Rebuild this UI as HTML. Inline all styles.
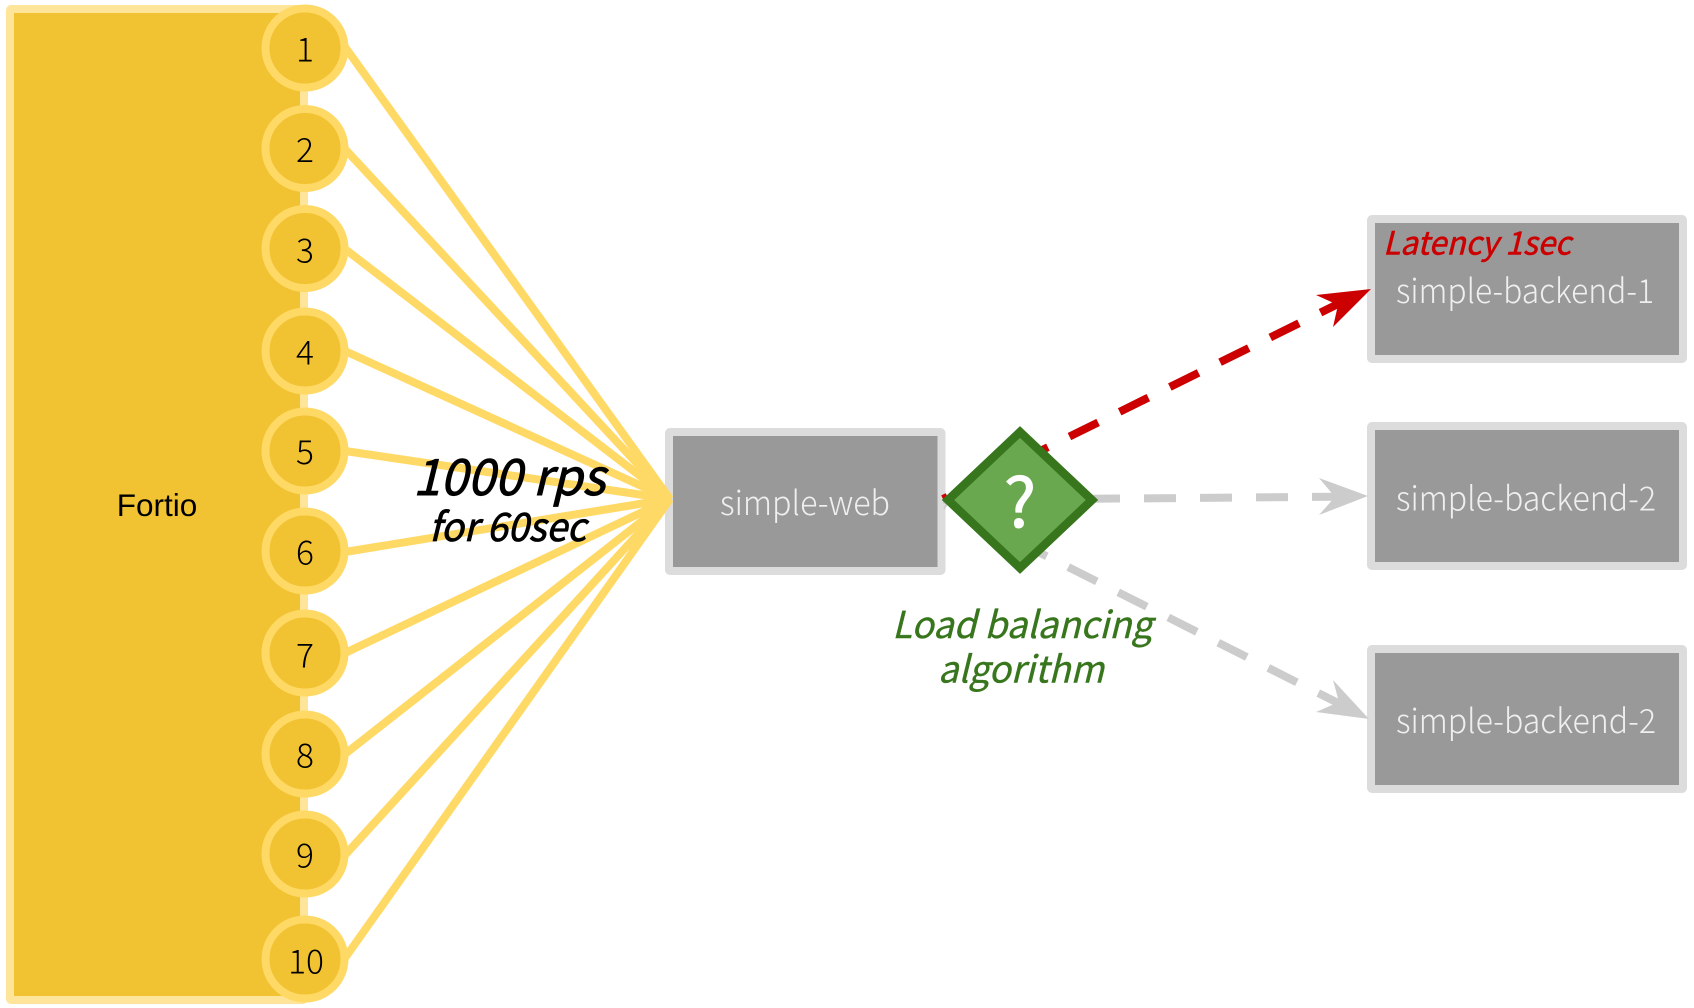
<!DOCTYPE html>
<html><head><meta charset="utf-8"><style>
html,body{margin:0;padding:0;background:#fff}
svg{display:block}
text{font-family:"Noto Sans CJK KR","Liberation Sans",sans-serif}
.n{font-size:33.5px;fill:#000;text-anchor:middle;font-weight:300}
.b{font-size:33.5px;fill:#efefef;font-weight:300}
.i{font-style:italic}
</style></head><body>
<svg width="1694" height="1008" viewBox="0 0 1694 1008" xmlns="http://www.w3.org/2000/svg">
<rect width="1694" height="1008" fill="#fff"/>
<!-- Fortio body -->
<rect x="10" y="9" width="294" height="991" rx="1" fill="#f1c232" stroke="#ffe599" stroke-width="8"/>
<text x="157" y="516" style='font-family:"Liberation Sans",sans-serif;font-size:31.5px' fill="#000" text-anchor="middle">Fortio</text>
<!-- simple-web box -->
<rect x="669" y="432" width="272.5" height="139" rx="1" fill="#999" stroke="#dcdcdc" stroke-width="8"/>
<!-- fan -->
<g stroke="#ffd966" stroke-width="8" fill="none">
<line x1="345" y1="47" x2="670" y2="499"/>
<line x1="345" y1="149" x2="670" y2="499"/>
<line x1="345" y1="249" x2="670" y2="499"/>
<line x1="345" y1="351" x2="670" y2="499"/>
<line x1="345" y1="451" x2="670" y2="499"/>
<line x1="345" y1="552" x2="670" y2="499"/>
<line x1="345" y1="653" x2="670" y2="499"/>
<line x1="345" y1="754" x2="670" y2="499"/>
<line x1="345" y1="855" x2="670" y2="499"/>
<line x1="345" y1="958" x2="670" y2="499"/>
</g>
<polygon points="672,499 650,470 650,528" fill="#ffd966"/>
<!-- circles -->
<g fill="#f1c232" stroke="#ffd966" stroke-width="8">
<circle cx="305" cy="48" r="39.5"/>
<circle cx="305" cy="148.5" r="39.5"/>
<circle cx="305" cy="248.5" r="39.5"/>
<circle cx="305" cy="351" r="39.5"/>
<circle cx="305" cy="451" r="39.5"/>
<circle cx="305" cy="551" r="39.5"/>
<circle cx="305" cy="653" r="39.5"/>
<circle cx="305" cy="754" r="39.5"/>
<circle cx="305" cy="854" r="39.5"/>
<circle cx="305" cy="959" r="39.5"/>
</g>
<text class="n" x="305" y="61.5">1</text>
<text class="n" x="305" y="162">2</text>
<text class="n" x="305" y="262.5">3</text>
<text class="n" x="305" y="364.5">4</text>
<text class="n" x="305" y="464">5</text>
<text class="n" x="305" y="564.5">6</text>
<text class="n" x="305" y="667.5">7</text>
<text class="n" x="305" y="767.5">8</text>
<text class="n" x="305" y="867.5">9</text>
<text class="n" x="306" y="973.5">10</text>
<!-- fan labels -->
<text class="i" x="413" y="495" font-size="50" textLength="192" lengthAdjust="spacingAndGlyphs" fill="#000" stroke="#000" stroke-width=".9">1000 rps</text>
<text class="i" x="429" y="541" font-size="39" textLength="157" lengthAdjust="spacingAndGlyphs" fill="#000" stroke="#000" stroke-width=".8">for 60sec</text>
<text class="b" x="720" y="515" textLength="170" lengthAdjust="spacingAndGlyphs">simple-web</text>
<!-- backends -->
<g fill="#999" stroke="#dcdcdc" stroke-width="8">
<rect x="1371" y="219" width="312" height="140" rx="1"/>
<rect x="1371" y="426" width="312" height="140" rx="1"/>
<rect x="1371" y="649" width="312" height="140" rx="1"/>
</g>
<!-- dashed links -->
<g fill="none" stroke-width="8" stroke-dasharray="32 24">
<line x1="945" y1="505" x2="1340" y2="704" stroke="#ccc" stroke-dashoffset="30"/>
<line x1="943" y1="500" x2="1340" y2="496.7" stroke="#ccc" stroke-dashoffset="23"/>
<line x1="943" y1="499" x2="1340" y2="303" stroke="#c00" stroke-dashoffset="27"/>
</g>
<polygon points="1368,496 1319,478 1335,497 1319,515" fill="#ccc"/>
<polygon points="1369,719 1333,680 1339,702 1316,712" fill="#ccc"/>
<polygon points="1371,289 1316,295 1338,305 1333,327" fill="#c00"/>
<!-- decision -->
<polygon points="1020,432 1092,500 1020,568 948,500" fill="#6aa84f" stroke="#38761d" stroke-width="8.5" stroke-linejoin="miter"/>
<text x="1020" y="527" font-size="68" fill="#fff" stroke="#fff" stroke-width="1" text-anchor="middle">?</text>
<text class="i" x="892" y="638" font-size="37" textLength="260" lengthAdjust="spacingAndGlyphs" fill="#38761d" stroke="#38761d" stroke-width=".4">Load balancing</text>
<text class="i" x="938" y="682.5" font-size="37" textLength="166" lengthAdjust="spacingAndGlyphs" fill="#38761d" stroke="#38761d" stroke-width=".4">algorithm</text>
<text class="i" x="1383" y="254.5" font-size="32" textLength="188" lengthAdjust="spacingAndGlyphs" fill="#c00" stroke="#c00" stroke-width=".6">Latency 1sec</text>
<text class="b" x="1396" y="303" textLength="258" lengthAdjust="spacingAndGlyphs">simple-backend-1</text>
<text class="b" x="1396" y="510.5" textLength="260" lengthAdjust="spacingAndGlyphs">simple-backend-2</text>
<text class="b" x="1396" y="733" textLength="260" lengthAdjust="spacingAndGlyphs">simple-backend-2</text>
</svg>
</body></html>
